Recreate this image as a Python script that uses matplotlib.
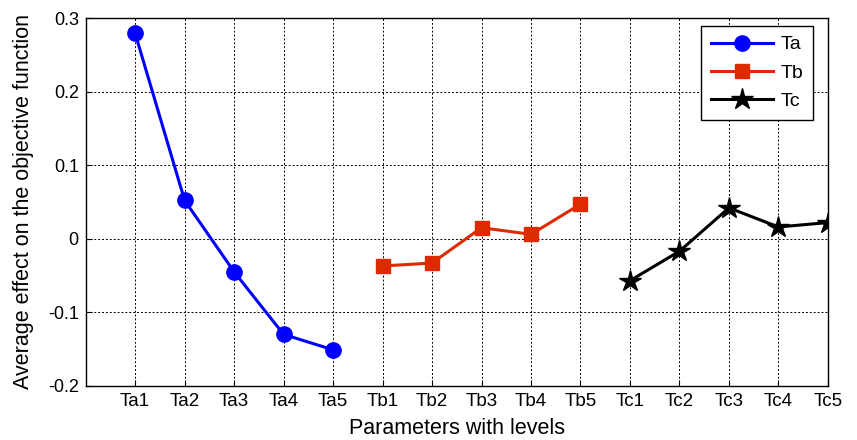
import matplotlib
matplotlib.use("Agg")
from matplotlib import pyplot as plt

plt.rcParams['font.family'] = ['Liberation Sans', 'DejaVu Sans']

levels = ['Ta1', 'Ta2', 'Ta3', 'Ta4', 'Ta5',
          'Tb1', 'Tb2', 'Tb3', 'Tb4', 'Tb5',
          'Tc1', 'Tc2', 'Tc3', 'Tc4', 'Tc5']
ta = [0.279, 0.052, -0.045, -0.130, -0.151]
tb = [-0.037, -0.033, 0.015, 0.006, 0.047]
tc = [-0.057, -0.017, 0.042, 0.016, 0.022]

x_ta = [1, 2, 3, 4, 5]
x_tb = [6, 7, 8, 9, 10]
x_tc = [11, 12, 13, 14, 15]

fig = plt.figure(figsize=(8.57, 4.4), dpi=100)
ax = fig.add_axes([0.100, 0.123, 0.866, 0.836])

ax.plot(x_ta, ta, color='#0000ff', lw=2.2, marker='o', ms=11, label='Ta')
ax.plot(x_tb, tb, color='#dd2a00', lw=2.2, marker='s', ms=10.5, label='Tb')
ax.plot(x_tc, tc, color='black', lw=2.2, marker='*', ms=16, label='Tc')

ax.set_xlim(0, 15)
ax.set_ylim(-0.2, 0.3)
ax.set_xticks(range(1, 16))
ax.set_xticklabels(levels)
ax.set_yticks([-0.2, -0.1, 0, 0.1, 0.2, 0.3])
ax.set_yticklabels(['-0.2', '-0.1', '0', '0.1', '0.2', '0.3'])
ax.tick_params(direction='in', length=4, labelsize=13, pad=5)
ax.tick_params(axis='x', labelsize=13.5)
ax.grid(True, color='black', linestyle=(0, (2, 2)), linewidth=0.7)
for s in ax.spines.values():
    s.set_linewidth(1.0)

ax.set_xlabel('Parameters with levels', fontsize=15.5, labelpad=6)
ax.set_ylabel('Average effect on the objective function', fontsize=15.5, labelpad=10)

leg = ax.legend(loc='upper right', fontsize=14, fancybox=False, framealpha=1,
                edgecolor='black', borderaxespad=0,
                bbox_to_anchor=(813 / 857, 1 - 26 / 440),
                bbox_transform=fig.transFigure,
                handlelength=3.2, handletextpad=0.4, labelspacing=0.55,
                borderpad=0.5)
leg.get_frame().set_linewidth(1.0)

fig.savefig('out.png', dpi=100)
